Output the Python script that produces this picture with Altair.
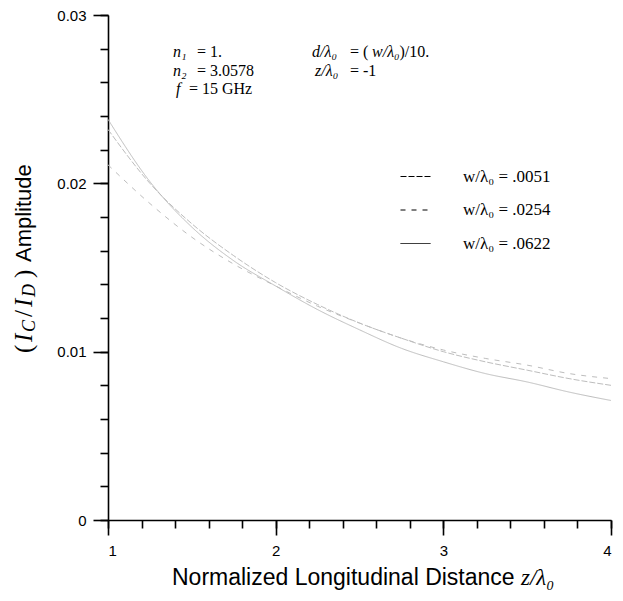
import altair as alt
import pandas as pd

# ---- data ----
z_vals = [1.0, 1.25, 1.5, 1.75, 2.0, 2.25, 2.5, 2.75, 3.0, 3.25, 3.5, 3.75, 4.0]
amp_0051 = [0.0232, 0.0200, 0.0176, 0.0157, 0.0141, 0.0128, 0.0117, 0.0108, 0.0100, 0.0094, 0.0089, 0.0084, 0.0080]
amp_0254 = [0.0211, 0.0188, 0.0168, 0.0152, 0.0139, 0.0127, 0.0117, 0.0108, 0.0101, 0.0096, 0.0092, 0.0087, 0.0084]
amp_0622 = [0.0238, 0.0201, 0.0174, 0.0154, 0.0139, 0.0125, 0.0113, 0.0102, 0.0094, 0.0087, 0.0082, 0.0076, 0.0071]
series_labels = ["w/λ₀ = .0051", "w/λ₀ = .0254", "w/λ₀ = .0622"]
series_dash = [[6, 2], [5, 6], [1, 0]]

y_major = [0, 0.01, 0.02, 0.03]
y_minor = [i * 0.002 for i in range(16)]
x_major = [1, 2, 3, 4]
x_minor = [1 + i * 0.2 for i in range(16)]

# annotation pieces: text, x (data), y (data), italic?
ann_text = ["n₁", "= 1.", "n₂", "= 3.0578", "f", "= 15 GHz",
            "d/λ₀", "= (", "w/λ₀", ")/10.", "z/λ₀", "=  -1"]
ann_x = [1.388, 1.531, 1.388, 1.531, 1.406, 1.483,
         2.217, 2.443, 2.575, 2.738, 2.235, 2.443]
ann_y = [0.0278, 0.0278, 0.02667, 0.02667, 0.02563, 0.02563,
         0.0278, 0.0278, 0.0278, 0.0278, 0.02667, 0.02667]
ann_style = ["italic", "normal", "italic", "normal", "italic", "normal",
             "italic", "normal", "italic", "normal", "italic", "normal"]

# y-axis title pieces (rotated), offsets from plot top-left in px
yt_text = ["(", "I", "C", "/", "I", "D", ")", "Amplitude"]
yt_pos = [338, 327, 317, 302, 292, 282, 263, 247]
yt_dx = [0, 0, 6, 0, 0, 6, 0, 0]
yt_size = [25, 25, 18, 25, 25, 18, 25, 22]
yt_font = ["Liberation Serif"] * 7 + ["Liberation Sans"]
yt_style = ["normal", "italic", "italic", "normal", "italic", "italic", "normal", "normal"]

rows = []
for lab, vals in zip(series_labels, [amp_0051, amp_0254, amp_0622]):
    for z, a in zip(z_vals, vals):
        rows.append({"z": z, "amp": a, "series": lab})
df = pd.DataFrame(rows)
ann = pd.DataFrame({"x": ann_x, "y": ann_y, "t": ann_text, "s": ann_style})

xs = alt.Scale(domain=[1, 4], nice=False, zero=False)
ys = alt.Scale(domain=[0, 0.03], nice=False)

AX = dict(domainColor="black", tickColor="black", domainWidth=1.6, tickWidth=1.6,
          grid=False, labelColor="black", labelFont="Liberation Sans", labelFontSize=15)

lines = alt.Chart(df).mark_line(color="#bdbdbd", strokeWidth=1, interpolate="monotone").encode(
    x=alt.X("z:Q", scale=xs, axis=alt.Axis(
        orient="bottom", values=x_major, format="d", tickSize=15, labelPadding=8,
        title=None, **AX)),
    y=alt.Y("amp:Q", scale=ys, axis=alt.Axis(
        orient="left", values=y_major, format=".2~f", tickSize=15, labelPadding=7,
        title=None, **AX)),
    strokeDash=alt.StrokeDash("series:N", scale=alt.Scale(domain=series_labels, range=series_dash),
        legend=alt.Legend(title=None, orient="none", legendX=292, legendY=146,
                          symbolType="stroke", symbolSize=900, symbolStrokeColor="black",
                          symbolStrokeWidth=1, labelFont="Liberation Serif", labelFontSize=17,
                          labelColor="black", labelOffset=32, rowPadding=9.5)),
    order="z:Q",
)

minor = alt.Chart(df).mark_point(opacity=0).encode(
    x=alt.X("z:Q", scale=xs, axis=alt.Axis(orient="bottom", values=x_minor, tickSize=8,
            labels=False, domain=False, title=None, ticks=True, tickColor="black",
            tickWidth=1.6, grid=False)),
    y=alt.Y("amp:Q", scale=ys, axis=alt.Axis(orient="left", values=y_minor, tickSize=8,
            labels=False, domain=False, title=None, ticks=True, tickColor="black",
            tickWidth=1.6, grid=False)),
)

layers = [lines, minor]

for style in ["italic", "normal"]:
    layers.append(
        alt.Chart(ann[ann["s"] == style]).mark_text(
            align="left", baseline="middle", font="Liberation Serif",
            fontSize=16, fontStyle=style, color="black").encode(
            x=alt.X("x:Q", scale=xs, axis=None),
            y=alt.Y("y:Q", scale=ys, axis=None),
            text="t:N",
        )
    )

# y title pieces
for t, p, dx, sz, fnt, st in zip(yt_text, yt_pos, yt_dx, yt_size, yt_font, yt_style):
    layers.append(
        alt.Chart(pd.DataFrame({"t": [t]})).mark_text(
            align="left", baseline="middle", angle=270, font=fnt, fontSize=sz,
            fontStyle=st, color="black", dy=dx
        ).encode(x=alt.value(-84), y=alt.value(p), text="t:N")
    )

# x title pieces
xt_text = ["Normalized Longitudinal Distance", "z/λ₀"]
xt_pos = [64, 413]
xt_font = ["Liberation Sans", "Liberation Serif"]
xt_style = ["normal", "italic"]
for t, p, fnt, st in zip(xt_text, xt_pos, xt_font, xt_style):
    layers.append(
        alt.Chart(pd.DataFrame({"t": [t]})).mark_text(
            align="left", baseline="middle", font=fnt, fontSize=23, fontStyle=st, color="black"
        ).encode(x=alt.value(p), y=alt.value(563), text="t:N")
    )

chart = alt.layer(*layers).resolve_axis(x="independent", y="independent").properties(
    width=503, height=505, autosize=alt.AutoSizeParams(type="none"),
    padding={"left": 100, "top": 7, "right": 4, "bottom": 72}
).configure_view(stroke=None)

chart.save("out.html", embed_options={"renderer": "svg", "actions": False})
